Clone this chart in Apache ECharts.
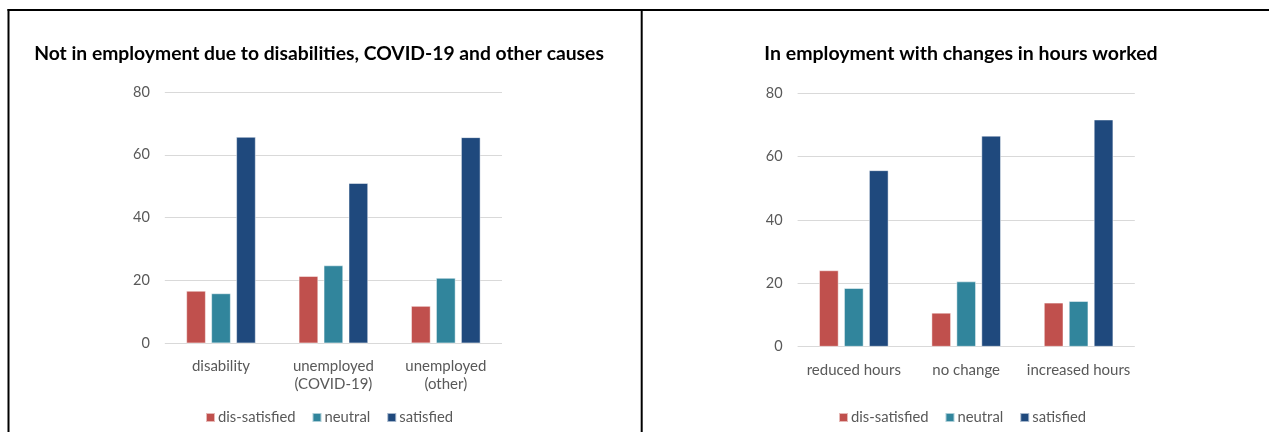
<!DOCTYPE html>
<html>
<head>
<meta charset="utf-8">
<script src="https://cdn.jsdelivr.net/npm/echarts@6/dist/echarts.min.js"></script>
<style>
html,body{margin:0;padding:0;background:#fff;}
#c{width:1269px;height:432px;}
</style>
</head>
<body>
<div id="c"></div>
<script>
// ---- data ----
const seriesNames = ['dis-satisfied', 'neutral', 'satisfied'];
const colors = ['#C0504D', '#31859C', '#1F497D'];

const leftTitle = 'Not in employment due to disabilities, COVID-19 and other causes';
const leftCategories = ['disability', 'unemployed\n(COVID-19)', 'unemployed\n(other)'];
const leftDisSatisfied = [16.7, 21.4, 11.9];
const leftNeutral = [15.9, 24.8, 20.8];
const leftSatisfied = [65.7, 51.0, 65.6];

const rightTitle = 'In employment with changes in hours worked';
const rightCategories = ['reduced hours', 'no change', 'increased hours'];
const rightDisSatisfied = [24.1, 10.7, 13.9];
const rightNeutral = [18.5, 20.6, 14.4];
const rightSatisfied = [55.7, 66.6, 71.7];

const yTicks = [0, 20, 40, 60, 80];

// ---- chart ----
const FONT = 'Lato';
const chart = echarts.init(document.getElementById('c'), null, {renderer: 'canvas'});

function barSeries(name, data, idx, color) {
  return {
    name: name, type: 'bar', data: data,
    xAxisIndex: idx, yAxisIndex: idx,
    barWidth: 19.5, barGap: '28%',
    itemStyle: {color: color, borderColor: 'rgba(255,255,255,0.6)', borderWidth: 0.8},
    emphasis: {disabled: true}
  };
}

function xAxis(idx, cats) {
  return {
    type: 'category', gridIndex: idx, data: cats,
    axisLine: {show: false}, axisTick: {show: false},
    axisLabel: {color: '#595959', fontFamily: FONT, fontSize: 15, margin: 14, lineHeight: 18, interval: 0}
  };
}
function yAxis(idx) {
  return {
    type: 'value', gridIndex: idx, min: yTicks[0], max: yTicks[yTicks.length - 1], interval: 20,
    axisLine: {show: false}, axisTick: {show: false},
    axisLabel: {color: '#595959', fontFamily: FONT, fontSize: 14.5, margin: 15},
    splitLine: {lineStyle: {color: '#D9D9D9', width: 1}}
  };
}
function legend(left) {
  return {
    data: seriesNames, left: left, top: 410, padding: 0, icon: 'rect',
    itemWidth: 9, itemHeight: 9, itemGap: 16,
    textStyle: {color: '#595959', fontFamily: FONT, fontSize: 14.8, padding: [0, 0, 0, -2]},
    selectedMode: false
  };
}

chart.setOption({
  animation: false,
  color: colors,
  title: [
    {text: leftTitle, left: 314, textAlign: 'center', top: 39,
     textStyle: {fontFamily: FONT, fontWeight: 'bold', fontSize: 19.3, color: '#000'}},
    {text: rightTitle, left: 956, textAlign: 'center', top: 39,
     textStyle: {fontFamily: FONT, fontWeight: 'bold', fontSize: 19.5, color: '#000'}}
  ],
  legend: [legend(205), legend(838)],
  grid: [
    {left: 164.8, top: 92, width: 337.2, height: 251.3, containLabel: false},
    {left: 797.6, top: 93.3, width: 337.2, height: 253.4, containLabel: false}
  ],
  xAxis: [xAxis(0, leftCategories), xAxis(1, rightCategories)],
  yAxis: [yAxis(0), yAxis(1)],
  series: [
    barSeries(seriesNames[0], leftDisSatisfied, 0, colors[0]),
    barSeries(seriesNames[1], leftNeutral, 0, colors[1]),
    barSeries(seriesNames[2], leftSatisfied, 0, colors[2]),
    barSeries(seriesNames[0], rightDisSatisfied, 1, colors[0]),
    barSeries(seriesNames[1], rightNeutral, 1, colors[1]),
    barSeries(seriesNames[2], rightSatisfied, 1, colors[2])
  ],
  graphic: [
    {type: 'line', shape: {x1: 7.5, y1: 10, x2: 1269, y2: 10}, style: {stroke: '#000', lineWidth: 2}, silent: true},
    {type: 'line', shape: {x1: 8.5, y1: 9, x2: 8.5, y2: 432}, style: {stroke: '#000', lineWidth: 2}, silent: true},
    {type: 'line', shape: {x1: 641.7, y1: 9, x2: 641.7, y2: 432}, style: {stroke: '#000', lineWidth: 2}, silent: true}
  ]
});
</script>
</body>
</html>
